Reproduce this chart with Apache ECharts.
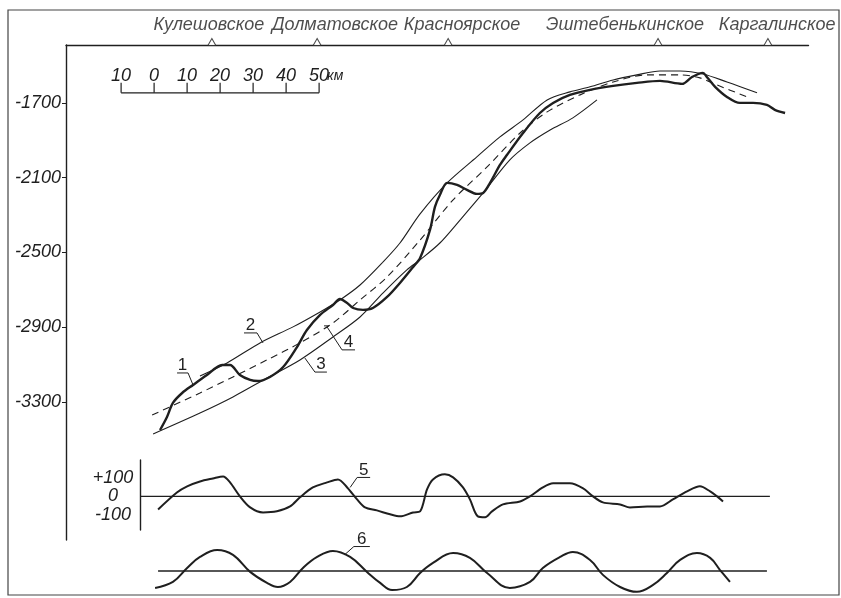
<!DOCTYPE html>
<html>
<head>
<meta charset="utf-8">
<script src="https://cdn.jsdelivr.net/npm/echarts@6/dist/echarts.min.js"></script>
<style>
  html, body { margin: 0; padding: 0; background: #fff; }
  #chart { width: 841px; height: 598px; }
</style>
</head>
<body>
<div id="chart"></div>
<script>
// Distances along the profile are in km, depths in metres.
const fieldNames = ['Кулешовское', 'Долматовское', 'Красноярское', 'Эштебенькинское', 'Каргалинское'];
const fieldKm = [44.2, 76.1, 115.8, 179.4, 212.7];
const fieldLabelKm = [43.3, 81.5, 120.0, 169.4, 215.5];

const depthTicks = [-3300, -2900, -2500, -2100, -1700];
const residualTicks = [-100, 0, 100];
const scaleKm = [-10, 0, 10, 20, 30, 40, 50];

// 1 – structural surface
const surface = [[28.5,-3451],[30.6,-3381],[32.4,-3306],[35.2,-3253],[38.5,-3210],[42.7,-3157],[47.3,-3103],[49.7,-3103],[52.7,-3157],[55.8,-3183],[58.2,-3189],[61.8,-3167],[65.8,-3114],[70.0,-3007],[73.0,-2916],[77.0,-2835],[80.9,-2782],[83.0,-2750],[85.2,-2771],[87.0,-2798],[90.0,-2808],[93.0,-2798],[97.3,-2739],[101.2,-2664],[105.2,-2578],[107.3,-2530],[110.3,-2380],[111.8,-2257],[113.3,-2193],[115.5,-2128],[118.5,-2139],[121.5,-2166],[124.5,-2187],[126.4,-2182],[128.5,-2128],[131.5,-2032],[133.6,-1979],[138.5,-1861],[143.6,-1754],[147.6,-1700],[152.7,-1657],[158.8,-1630],[165.8,-1609],[173.0,-1593],[180.0,-1582],[186.7,-1598],[189.7,-1561],[193.0,-1539],[194.2,-1561],[196.7,-1614],[200.3,-1668],[204.2,-1700],[208.2,-1700],[212.4,-1711],[214.8,-1737],[217.9,-1754]];
// 2 – upper envelope
const upperEnvelope = [[40.6,-3162],[48.8,-3092],[58.8,-2985],[68.8,-2899],[77.0,-2819],[83.0,-2755],[89.1,-2675],[96.1,-2551],[101.2,-2450],[107.3,-2294],[115.5,-2128],[124.5,-1989],[131.5,-1882],[138.5,-1791],[145.8,-1684],[152.7,-1641],[158.8,-1614],[165.8,-1577],[173.0,-1550],[180.0,-1529],[186.1,-1529],[193.0,-1545],[200.3,-1588],[209.4,-1646]];
// 3 – lower envelope
const lowerEnvelope = [[26.4,-3472],[40.6,-3360],[50.6,-3274],[60.9,-3173],[70.9,-3076],[80.9,-2953],[89.1,-2846],[96.1,-2717],[103.3,-2594],[107.3,-2540],[113.3,-2450],[119.4,-2327],[126.4,-2182],[134.5,-2005],[140.6,-1914],[146.7,-1845],[153.6,-1780],[160.9,-1684]];
// 4 – regional trend
const trend = [[26.1,-3371],[40.6,-3253],[50.6,-3167],[60.9,-3076],[70.9,-2985],[80.9,-2878],[89.1,-2755],[97.3,-2632],[107.3,-2434],[117.3,-2219],[127.6,-2043],[137.6,-1861],[145.8,-1748],[155.8,-1657],[165.8,-1588],[176.1,-1550],[186.1,-1550],[192.1,-1566],[197.3,-1604],[206.4,-1668]];
// 5 – residual anomaly, m
const residual = [[27.9,-70],[33.6,21],[36.7,54],[40.6,80],[44.5,96],[47.6,107],[49.7,75],[52.7,0],[55.8,-59],[59.7,-86],[63.9,-80],[67.9,-54],[70.9,-5],[74.8,48],[79.1,75],[82.4,91],[85.2,48],[88.2,-16],[90.6,-59],[94.2,-75],[98.2,-96],[101.2,-107],[105.2,-86],[107.3,-80],[109.4,37],[111.2,91],[114.8,118],[117.3,102],[120.3,48],[122.4,-16],[124.8,-107],[127.0,-112],[129.1,-80],[132.4,-43],[137.6,-27],[140.6,0],[144.5,48],[147.6,70],[152.7,70],[156.7,43],[159.7,0],[162.7,-32],[167.9,-43],[170.9,-59],[176.1,-54],[180.0,-54],[183.9,-16],[188.2,27],[192.1,54],[195.2,27],[197.3,0],[199.1,-27]];
const residualZero = [[22.42,0],[213.3,0]];
// 6 – harmonic component, m
const harmonic = [[27.0,-91],[32.4,-59],[36.7,16],[40.6,75],[45.8,112],[50.6,86],[55.8,-5],[60.9,-64],[64.2,-86],[67.9,-59],[71.8,16],[76.1,75],[80.9,107],[86.1,75],[91.2,-5],[95.2,-64],[98.8,-102],[103.3,-86],[107.3,-11],[111.2,43],[117.3,96],[122.4,70],[127.6,-11],[134.5,-91],[140.6,-59],[144.5,16],[149.7,75],[153.6,102],[158.8,59],[162.7,-21],[167.9,-86],[173.0,-112],[177.9,-75],[182.1,-11],[186.1,59],[191.2,96],[195.2,70],[198.2,5],[201.2,-59]];
const harmonicZero = [[27.9,0],[212.4,0]];

// Curve callouts: anchor on the curve, leader offset (px), underline length (px)
const mainCallouts = [
  { text: '1', at: [38.5, -3210], lead: [-5, -12], line: -11 },
  { text: '2', at: [59.7, -2985], lead: [-6, -10], line: -13 },
  { text: '3', at: [72.4, -3066], lead: [10, 14], line: 12 },
  { text: '4', at: [79.1, -2899], lead: [15, 23], line: 13, hook: true }
];
const residualCallouts = [{ text: '5', at: [86.1, 48], lead: [7, -10], line: 13 }];
const harmonicCallouts = [{ text: '6', at: [84.5, 88], lead: [9, -8], line: 16 }];

// Scale bar placement (in main-grid units)
const scaleOriginKm = 26.7;
const scaleDepth = -1646;

const INK = '#1f1f1f';
const FONT = '"Liberation Sans", Arial, sans-serif';

function calloutSeries(list, xi, yi) {
  return {
    type: 'custom', xAxisIndex: xi, yAxisIndex: yi, silent: true, z: 5,
    data: list.map((c, i) => [c.at[0], c.at[1], i]),
    renderItem(params, api) {
      const c = list[api.value(2)];
      const p = api.coord([api.value(0), api.value(1)]);
      const q = [p[0] + c.lead[0], p[1] + c.lead[1]];
      const r = [q[0] + c.line, q[1]];
      const children = [{
        type: 'polyline',
        shape: { points: [p, q, r] },
        style: { stroke: INK, lineWidth: 1, fill: null }
      }];
      if (c.hook) {
        children.push({ type: 'line', shape: { x1: p[0] - 3, y1: p[1] - 1, x2: p[0] + 2, y2: p[1] - 1 }, style: { stroke: INK, lineWidth: 1 } });
      }
      children.push({
        type: 'text',
        style: {
          text: c.text, x: (q[0] + r[0]) / 2, y: q[1] + 1,
          align: 'center', verticalAlign: 'bottom',
          font: '17px ' + FONT, fill: INK
        }
      });
      return { type: 'group', children };
    }
  };
}

const chart = echarts.init(document.getElementById('chart'), null, { renderer: 'canvas' });

chart.setOption({
  backgroundColor: '#ffffff',
  animation: false,
  graphic: [{
    type: 'rect', shape: { x: 8, y: 10, width: 831, height: 585 },
    style: { fill: null, stroke: '#444', lineWidth: 1.2 }, silent: true
  }],
  grid: [
    { left: 66, top: 45, width: 742.5, height: 495 },
    { left: 140, top: 460, width: 668.5, height: 70 },
    { left: 66, top: 540, width: 742.5, height: 58 }
  ],
  xAxis: [
    { type: 'value', gridIndex: 0, min: 0, max: 225, position: 'top',
      axisLine: { show: true, onZero: false, lineStyle: { color: INK, width: 1.4 } },
      axisTick: { show: false }, axisLabel: { show: false }, splitLine: { show: false } },
    { type: 'value', gridIndex: 1, min: 22.42, max: 225, show: false },
    { type: 'value', gridIndex: 2, min: 0, max: 225, show: false }
  ],
  yAxis: [
    { type: 'value', gridIndex: 0, min: -4040, max: -1390,
      axisLine: { show: true, onZero: false, lineStyle: { color: INK, width: 1.4 } },
      axisTick: { show: true, customValues: depthTicks, length: 4, lineStyle: { color: INK } },
      axisLabel: { customValues: depthTicks, margin: 5, color: INK,
        fontFamily: FONT, fontStyle: 'italic', fontSize: 18,
        formatter: v => String(v) },
      splitLine: { show: false } },
    { type: 'value', gridIndex: 1, min: -180, max: 195,
      axisLine: { show: true, onZero: false, lineStyle: { color: INK, width: 1.4 } },
      axisTick: { show: false },
      axisLabel: { customValues: residualTicks, margin: 27, align: 'center', color: INK,
        fontFamily: FONT, fontStyle: 'italic', fontSize: 18,
        formatter: v => (v > 0 ? '+' + v : String(v)) },
      splitLine: { show: false } },
    { type: 'value', gridIndex: 2, min: -145, max: 166, show: false }
  ],
  series: [
    { name: '2', type: 'line', data: upperEnvelope, smooth: 0.3, symbol: 'none',
      lineStyle: { color: INK, width: 1.1 } },
    { name: '3', type: 'line', data: lowerEnvelope, smooth: 0.3, symbol: 'none',
      lineStyle: { color: INK, width: 1.1 } },
    { name: '4', type: 'line', data: trend, smooth: 0.3, symbol: 'none',
      lineStyle: { color: INK, width: 1.1, type: [7, 5] } },
    { name: '1', type: 'line', data: surface, smooth: 0.3, symbol: 'none',
      lineStyle: { color: INK, width: 2.4 } },
    // oil fields along the profile
    { type: 'scatter', data: fieldKm.map(k => [k, -1390]), symbol: 'triangle',
      symbolSize: [8, 7], symbolOffset: [0, -3], clip: false, silent: true, z: 4,
      itemStyle: { color: '#fff', borderColor: INK, borderWidth: 1 } },
    { type: 'scatter', data: fieldLabelKm.map((k, i) => ({ value: [k, -1390], name: fieldNames[i] })),
      symbolSize: 0, clip: false, silent: true,
      label: { show: true, position: 'top', distance: 11, formatter: p => p.name,
        color: INK, fontFamily: FONT, fontStyle: 'italic', fontSize: 18 } },
    // linear scale
    { type: 'custom', silent: true, data: [[scaleOriginKm, scaleDepth]],
      renderItem(params, api) {
        const x0 = api.value(0), y0 = api.value(1);
        const a = api.coord([x0 + scaleKm[0], y0]);
        const b = api.coord([x0 + scaleKm[scaleKm.length - 1], y0]);
        const children = [{ type: 'line', shape: { x1: a[0], y1: a[1], x2: b[0], y2: b[1] },
          style: { stroke: INK, lineWidth: 1.3 } }];
        scaleKm.forEach(k => {
          const p = api.coord([x0 + k, y0]);
          children.push({ type: 'line', shape: { x1: p[0], y1: p[1], x2: p[0], y2: p[1] - 10 },
            style: { stroke: INK, lineWidth: 1.2 } });
          children.push({ type: 'text', style: { text: String(Math.abs(k)), x: p[0], y: p[1] - 8,
            align: 'center', verticalAlign: 'bottom', font: 'italic 18px ' + FONT, fill: INK } });
        });
        children.push({ type: 'text', style: { text: 'км', x: b[0] + 8, y: b[1] - 10,
          align: 'left', verticalAlign: 'bottom', font: 'italic 14px ' + FONT, fill: INK } });
        return { type: 'group', children };
      } },
    calloutSeries(mainCallouts, 0, 0),

    { type: 'line', xAxisIndex: 1, yAxisIndex: 1, data: residualZero, symbol: 'none',
      lineStyle: { color: INK, width: 1.2 } },
    { name: '5', type: 'line', xAxisIndex: 1, yAxisIndex: 1, data: residual, smooth: 0.3, symbol: 'none',
      lineStyle: { color: INK, width: 2 } },
    calloutSeries(residualCallouts, 1, 1),

    { type: 'line', xAxisIndex: 2, yAxisIndex: 2, data: harmonicZero, symbol: 'none',
      lineStyle: { color: INK, width: 1.5 } },
    { name: '6', type: 'line', xAxisIndex: 2, yAxisIndex: 2, data: harmonic, smooth: 0.4, symbol: 'none',
      lineStyle: { color: INK, width: 2 } },
    calloutSeries(harmonicCallouts, 2, 2)
  ]
});
</script>
</body>
</html>
